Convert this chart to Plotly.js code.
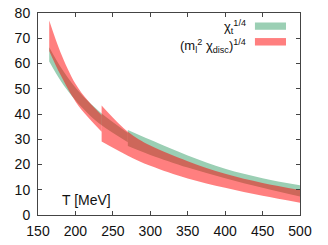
<!DOCTYPE html>
<html>
<head>
<meta charset="utf-8">
<script src="https://cdn.plot.ly/plotly-3.0.1.min.js"></script>
<style>html,body{margin:0;padding:0;background:#fff;}#chart{width:328px;height:245px;}</style>
</head>
<body>
<div id="chart"></div>
<script>
// chi_t^(1/4) bands (two lattice segments)
const T_green1 = [165, 180, 200, 216, 235, 270];
const green1_lo = [60.8, 53.3, 45.4, 40.4, 35.5, 28.8];
const green1_hi = [66.4, 58.7, 50.5, 45.3, 40.2, 32.5];
const T_green2 = [270, 300, 350, 400, 450, 500];
const green2_lo = [27.3, 23.8, 18.8, 14.6, 10.8, 7.3];
const green2_hi = [33.7, 29.8, 23.6, 18.3, 14.6, 11.8];
// (m_l^2 chi_disc)^(1/4) bands
const T_red1 = [165, 180, 200, 216, 235];
const red1_lo = [65, 55.5, 45, 39, 33];
const red1_hi = [77, 64.5, 52, 45.5, 39.5];
const T_red2 = [235, 270, 300, 350, 400, 450, 500];
const red2_lo = [29.1, 23.5, 19.5, 14.5, 10.8, 7.6, 4.9];
const red2_hi = [43.4, 33, 27.5, 21.3, 16.3, 12.7, 9.9];

const xTicks = [150, 200, 250, 300, 350, 400, 450, 500];
const yTicks = [0, 10, 20, 30, 40, 50, 60, 70, 80];

const GREEN = 'rgb(155,207,180)';
const RED = 'rgba(255,0,0,0.5)';

function band(x, lo, hi, color, name) {
  return [
    {x: x, y: lo, mode: 'lines', line: {width: 0, shape: 'spline', smoothing: 1}, showlegend: false, hoverinfo: 'skip', name: name},
    {x: x, y: hi, mode: 'lines', line: {width: 0, shape: 'spline', smoothing: 1}, fill: 'tonexty', fillcolor: color, showlegend: false, name: name}
  ];
}

const data = [].concat(
  band(T_green1, green1_lo, green1_hi, GREEN, 'χt^1/4'),
  band(T_green2, green2_lo, green2_hi, GREEN, 'χt^1/4'),
  band(T_red1, red1_lo, red1_hi, RED, '(ml^2 χdisc)^1/4'),
  band(T_red2, red2_lo, red2_hi, RED, '(ml^2 χdisc)^1/4')
);

const FAM = '"Liberation Sans", Arial, sans-serif';
const font = {family: FAM, size: 13, color: '#111'};
const tickFont = {family: FAM, size: 14, color: '#111'};

const layout = {
  width: 328, height: 245,
  margin: {l: 38, r: 28, t: 13, b: 30},
  paper_bgcolor: '#fff', plot_bgcolor: '#fff',
  font: font,
  showlegend: false,
  xaxis: {range: [150, 500], tickvals: xTicks, ticktext: xTicks.map(String), ticks: 'inside', ticklen: 4,
          tickcolor: '#444', showline: true, linecolor: '#444', linewidth: 1, mirror: 'ticks',
          showgrid: false, zeroline: false, tickfont: tickFont, ticklabelstandoff: 3, fixedrange: true},
  yaxis: {range: [0, 80], tickvals: yTicks, ticktext: yTicks.map(String), ticks: 'inside', ticklen: 4,
          tickcolor: '#444', showline: true, linecolor: '#444', linewidth: 1, mirror: 'ticks',
          showgrid: false, zeroline: false, tickfont: tickFont, ticklabelstandoff: 4, fixedrange: true},
  shapes: [
    {type: 'rect', xref: 'paper', yref: 'paper', x0: 0.828, x1: 0.9465, y0: 0.917, y1: 0.953, fillcolor: GREEN, line: {width: 0}},
    {type: 'rect', xref: 'paper', yref: 'paper', x0: 0.828, x1: 0.9465, y0: 0.839, y1: 0.876, fillcolor: RED, line: {width: 0}}
  ],
  annotations: [
    {xref: 'paper', yref: 'paper', x: 0.801, y: 0.93, xanchor: 'right', yanchor: 'middle', showarrow: false,
     text: 'χ<sub>t</sub><sup>1/4</sup>', font: font},
    {xref: 'paper', yref: 'paper', x: 0.801, y: 0.838, xanchor: 'right', yanchor: 'middle', showarrow: false,
     text: '(m<sub>l</sub><sup>2</sup> χ<sub>disc</sub>)<sup>1/4</sup>', font: font},
    {xref: 'paper', yref: 'paper', x: 0.083, y: 0.074, xanchor: 'left', yanchor: 'middle', showarrow: false,
     text: 'T [MeV]', font: {family: FAM, size: 14, color: '#111'}}
  ]
};

Plotly.newPlot('chart', data, layout, {staticPlot: true, displayModeBar: false});
</script>
</body>
</html>
